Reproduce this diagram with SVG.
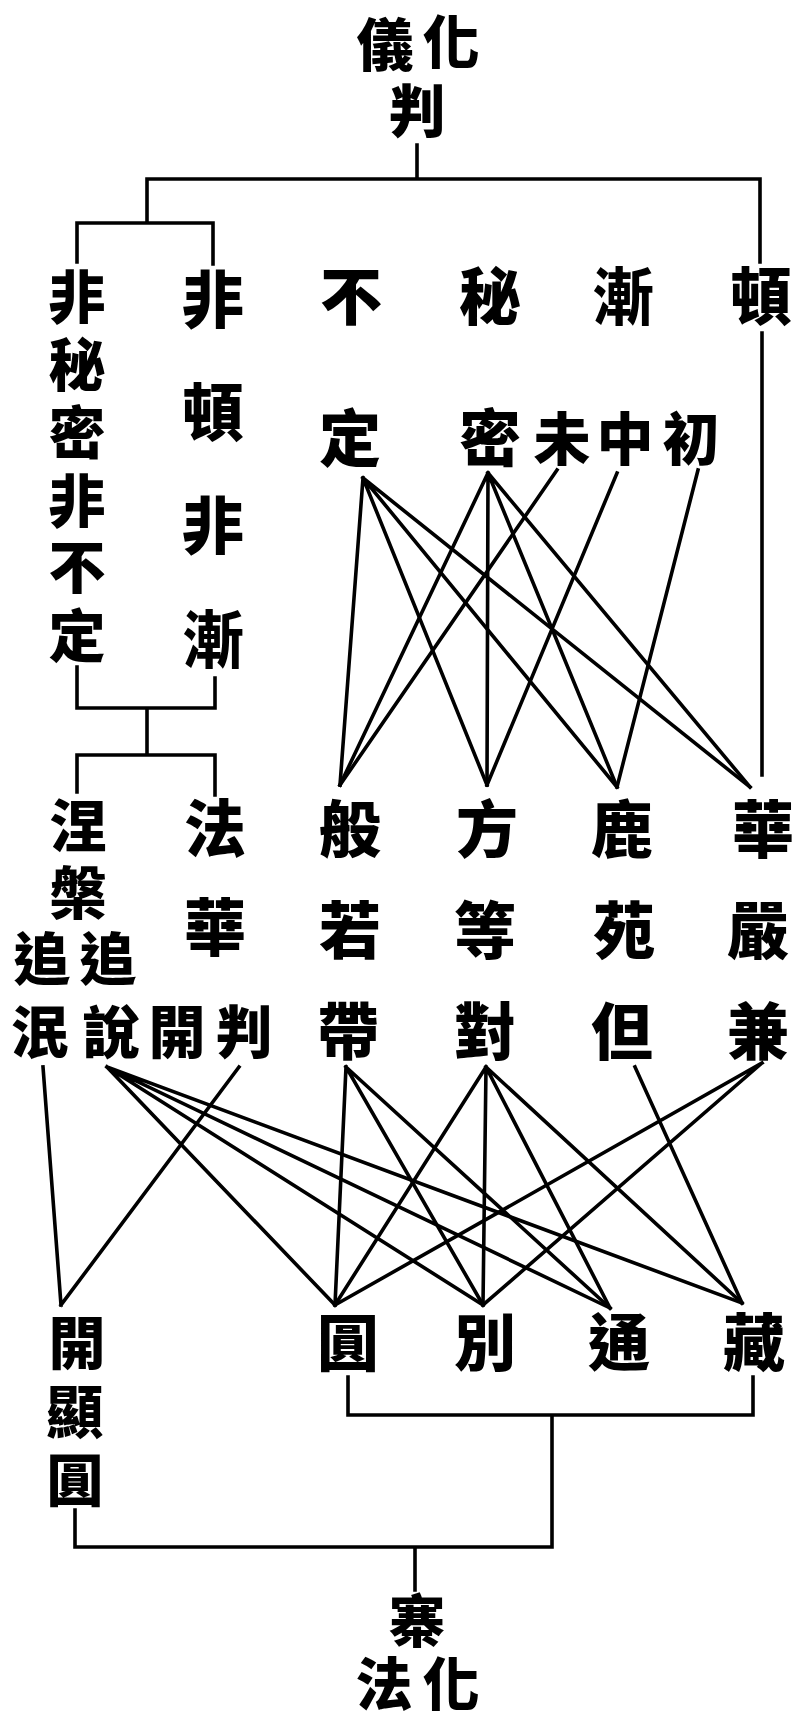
<svg xmlns="http://www.w3.org/2000/svg" width="797" height="1724" viewBox="0 0 797 1724">
<style>
text{font-family:"Noto Sans CJK TC","Noto Sans CJK SC","Noto Sans CJK JP",sans-serif;font-weight:900;font-size:62px;fill:#000;text-anchor:middle}
.s{font-size:57px}
.c path{fill:none;stroke:#000;stroke-width:3.6;stroke-linecap:square}
</style>
<rect width="797" height="1724" fill="#fff"/>
<g class="c" id="connectors">
<path d="M417,145V179M147,179H760M147,179V223M77,223H213M77,223V262M213,223V264M760,179V262M762,333V775"/>
<path d="M77,667V708M215,678V708M77,708H215M147,708V755M77,755H215M77,755V792M215,755V795"/>
<path d="M363,478L340,785M363,478L487,785M363,478L617,787M363,478L750,787"/>
<path d="M488,473L340,785M488,473L487,785M488,473L617,787M488,473L750,787"/>
<path d="M557,470L340,785M617,473L487,785M698,470L617,787"/>
<path d="M43,1067L61,1305M239,1067L61,1305"/>
<path d="M107,1067L335,1305M107,1067L483,1305M107,1067L610,1308M107,1067L742,1303"/>
<path d="M346,1067L335,1305M346,1067L483,1305M346,1067L610,1308"/>
<path d="M486,1067L335,1305M486,1067L483,1305M486,1067L610,1308M486,1067L742,1303"/>
<path d="M635,1067L742,1303M762,1063L335,1305M762,1063L483,1305"/>
<path d="M348,1377V1415M753,1377V1415M348,1415H753M552,1415V1547M75,1510V1547M75,1547H552M415,1547V1590"/>
</g>
<g id="n-huayi"><text class="s" x="385" y="66">儀</text><text class="s" x="451" y="63">化</text><text class="s" x="417" y="132">判</text></g>
<g id="n-feimi"><text class="s" x="77 77 77 77 77 77" y="318 386 454 522 588 657">非秘密非不定</text></g>
<g id="n-feidun"><text x="213" y="323">非</text><text x="213" y="436">頓</text><text x="213" y="549">非</text><text x="213" y="663">漸</text></g>
<g id="n-buding"><text x="351" y="320">不</text><text x="350" y="462">定</text></g>
<g id="n-mimi"><text x="490" y="320">秘</text><text x="490" y="462">密</text></g>
<g id="n-jian"><text x="623" y="320">漸</text></g>
<g id="n-jianmo"><text class="s" x="562" y="460">未</text></g>
<g id="n-jianzhong"><text class="s" x="625" y="460">中</text></g>
<g id="n-jianchu"><text class="s" x="691" y="460">初</text></g>
<g id="n-dun"><text x="761" y="320">頓</text></g>
<g id="n-niepan"><text class="s" x="78 78" y="847 914">涅槃</text></g>
<g id="n-zhuimin"><text class="s" x="42 40" y="980 1053">追泯</text></g>
<g id="n-zhuishuo"><text class="s" x="108 111" y="980 1053">追說</text></g>
<g id="n-fahua"><text x="215" y="852">法</text><text x="215" y="951">華</text></g>
<g id="n-kaipan"><text class="s" x="177" y="1053">開</text><text class="s" x="244" y="1053">判</text></g>
<g id="n-bore"><text x="350" y="853">般</text><text x="350" y="954">若</text><text x="348" y="1055">帶</text></g>
<g id="n-fangdeng"><text x="487" y="853">方</text><text x="485" y="954">等</text><text x="485" y="1055">對</text></g>
<g id="n-luyuan"><text x="622" y="853">鹿</text><text x="624" y="954">苑</text><text x="622" y="1055">但</text></g>
<g id="n-huayan"><text x="763" y="853">華</text><text x="758" y="954">嚴</text><text x="758" y="1055">兼</text></g>
<g id="n-kaixian"><text class="s" x="77 75 75" y="1364 1433 1501">開顯圓</text></g>
<g id="n-yuan"><text x="348" y="1366">圓</text></g>
<g id="n-bie"><text x="485" y="1366">別</text></g>
<g id="n-tong"><text x="619" y="1366">通</text></g>
<g id="n-zang"><text x="754" y="1366">藏</text></g>
<g id="n-huafa"><text class="s" x="417" y="1642">寨</text><text class="s" x="384" y="1705">法</text><text class="s" x="451" y="1705">化</text></g>
</svg>
